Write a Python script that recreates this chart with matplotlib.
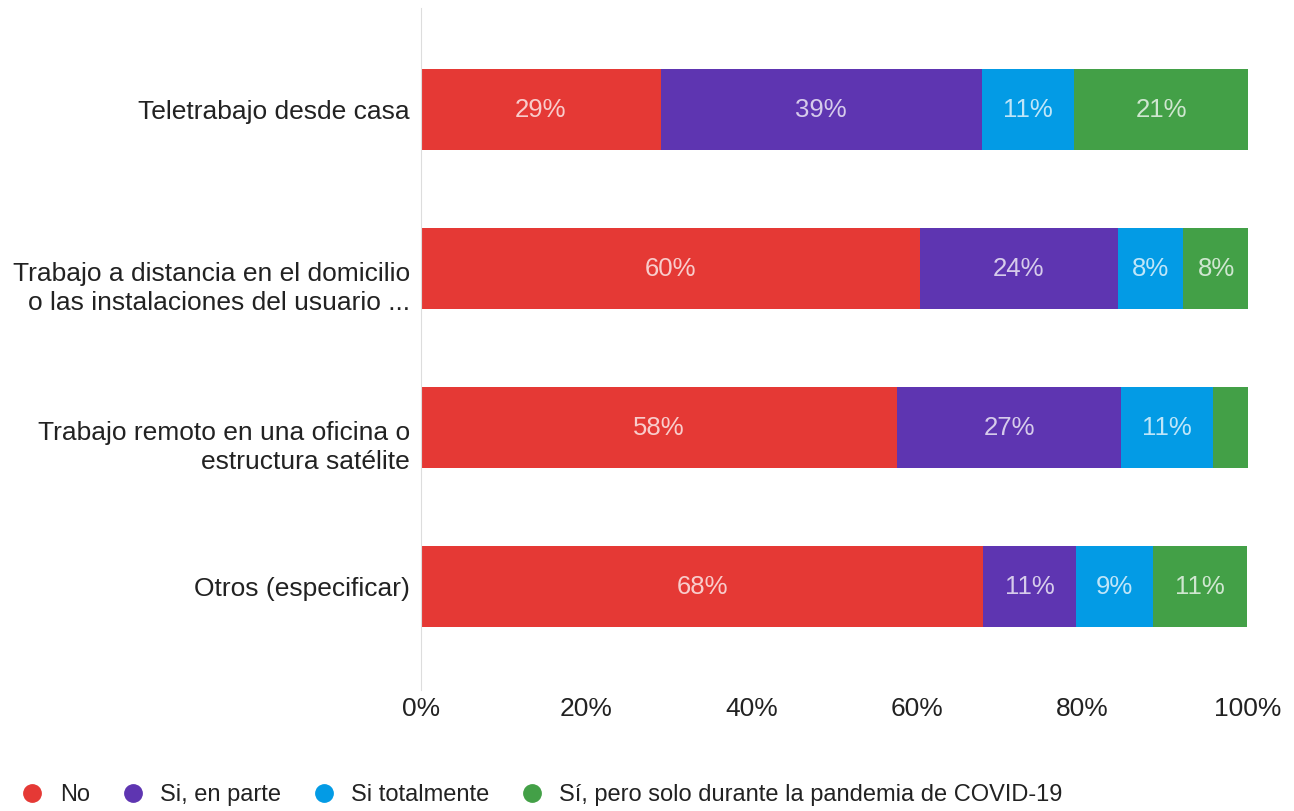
import numpy as np
import matplotlib.pyplot as plt
from matplotlib.lines import Line2D

plt.rcParams['font.family'] = ['Liberation Sans', 'DejaVu Sans']

# data
categories = ["Teletrabajo desde casa",
              "Trabajo a distancia en el domicilio\no las instalaciones del usuario ...",
              "Trabajo remoto en una oficina o\nestructura satélite",
              "Otros (especificar)"]
series = ["No", "Si, en parte", "Si totalmente", "Sí, pero solo durante la pandemia de COVID-19"]
no_vals = [29.0, 60.3, 57.6, 68.0]
parte_vals = [38.8, 24.0, 27.1, 11.2]
total_vals = [11.2, 7.9, 11.1, 9.3]
covid_vals = [21.0, 7.9, 4.2, 11.4]
colors = ["#E53935", "#5E35B1", "#039BE5", "#43A047"]

fig = plt.figure(figsize=(12.94, 8.11), dpi=100)
ax = fig.add_axes([421/1294, 1 - 690/811, (1248-421)/1294, (690-8)/811])

y = np.arange(len(categories))
left = np.zeros(len(categories))
for vals, col in zip([no_vals, parte_vals, total_vals, covid_vals], colors):
    vals = np.array(vals)
    ax.barh(y, vals, left=left, height=0.51, color=col)
    for yi, l, v in zip(y, left, vals):
        if v >= 5:
            ax.text(l + v / 2, yi, f"{v:.0f}%", ha="center", va="center",
                    color="white", alpha=0.75, fontsize=18.5)
    left += vals

ax.set_xlim(0, 100)
ax.set_ylim(3.65, -0.64)
ax.set_yticks(y)
# the first line of a wrapped label sits on the bar centre: pad with an empty
# line above so the centred block lines up on it
ylabels = [("\n" * c.count("\n")) + c for c in categories]
ax.set_yticklabels(ylabels, fontsize=19, color="#222222", linespacing=1.26)
ax.set_xticks([0, 20, 40, 60, 80, 100])
ax.set_xticklabels(["0%", "20%", "40%", "60%", "80%", "100%"], fontsize=19, color="#222222")
ax.tick_params(length=0)
ax.tick_params(axis="x", pad=5)
ax.tick_params(axis="y", pad=8)
for s in ["top", "right", "bottom"]:
    ax.spines[s].set_visible(False)
ax.spines["left"].set_color("#dddddd")

handles = [Line2D([], [], marker="o", linestyle="", markersize=12.5,
                  markerfacecolor=c, markeredgecolor=c) for c in colors]
fig.legend(handles, series, loc="center left", bbox_to_anchor=(-0.005, 1 - 795/811),
           ncol=4, frameon=False, fontsize=17, handlelength=1.5, handletextpad=0.4,
           columnspacing=1.07, labelcolor="#222222")

fig.savefig("out.png", dpi=100)
